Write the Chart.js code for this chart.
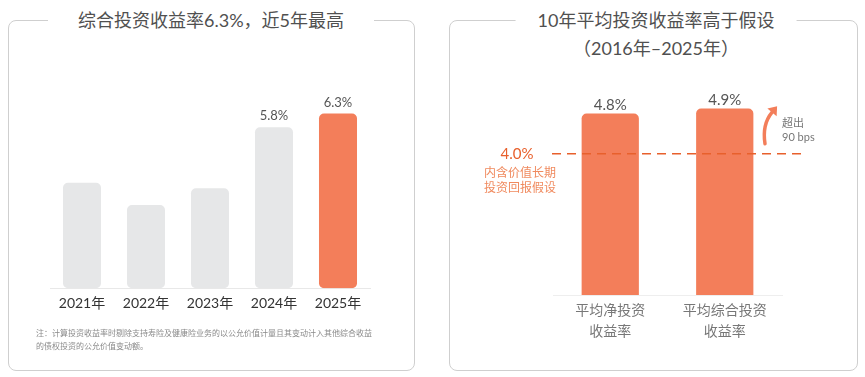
<!DOCTYPE html>
<html>
<head>
<meta charset="utf-8">
<script src="https://cdn.jsdelivr.net/npm/chart.js@4.4.1/dist/chart.umd.min.js"></script>
<style>
  body { margin: 0; background: #fff; font-family: Lato, 'Noto Sans CJK SC', sans-serif; }
  #wrap { position: relative; width: 865px; height: 377px; overflow: hidden; }
  .frame { position: absolute; border: 1.5px solid #cfcfcf; border-radius: 8px; box-sizing: border-box; }
  .title { position: absolute; background: #fff; color: #505050; font-size: 18px; line-height: 22px; white-space: nowrap; transform: translateX(-50%); }
  .note { position: absolute; left: 36px; color: #8a8a8a; font-size: 8px; line-height: 13px; white-space: nowrap; }
  canvas { position: absolute; top: 0; }
</style>
</head>
<body>
<div id="wrap">
  <div class="frame" style="left:8px;top:20px;width:407px;height:351px;"></div>
  <div class="frame" style="left:449px;top:20px;width:409px;height:351px;"></div>
  <canvas id="leftChart" width="430" height="377" style="left:0"></canvas>
  <canvas id="rightChart" width="425" height="377" style="left:440px"></canvas>
  <div class="title" style="left:211px;top:9px;padding:0 30px;">综合投资收益率6.3%，近5年最高</div>
  <div class="title" style="left:656px;top:9px;padding:0 22px;">10年平均投资收益率高于假设</div>
  <div class="title" style="left:656px;top:37px;padding:0 10px;">（2016年–2025年）</div>
  <div class="note" style="top:327px;">注：计算投资收益率时剔除支持寿险及健康险业务的以公允价值计量且其变动计入其他综合收益</div>
  <div class="note" style="top:340px;">的债权投资的公允价值变动额。</div>
</div>
<script>
// left chart: comprehensive investment yield by year (%)
const years = ['2021年', '2022年', '2023年', '2024年', '2025年'];
const yieldRates = [3.8, 3.0, 3.6, 5.8, 6.3];
const labeledYears = ['2024年', '2025年'];

// right chart: 10-year averages (%)
const avgCategories = [['平均净投资', '收益率'], ['平均综合投资', '收益率']];
const avgRates = [4.8, 4.9];
const assumptionRate = 4.0;
const assumptionText = ['内含价值长期', '投资回报假设'];

const FONT = "Lato, 'Noto Sans CJK SC', sans-serif";
const ORANGE = '#F37E5A';
const GREY = '#E6E7E8';

// value labels above bars
const valueLabels = {
  id: 'valueLabels',
  afterDatasetsDraw(chart, args, opts) {
    const ctx = chart.ctx;
    const ds = chart.data.datasets[0];
    chart.getDatasetMeta(0).data.forEach((bar, i) => {
      if (opts.only && !opts.only.includes(chart.data.labels[i])) return;
      ctx.save();
      ctx.fillStyle = '#555';
      ctx.font = opts.size + 'px ' + FONT;
      ctx.textAlign = 'center';
      ctx.textBaseline = 'middle';
      ctx.fillText(ds.data[i].toFixed(1) + '%', bar.x, bar.y - opts.offset);
      ctx.restore();
    });
  }
};

// dashed assumption line + annotation
const assumptionLine = {
  id: 'assumptionLine',
  afterDatasetsDraw(chart) {
    const ctx = chart.ctx;
    const area = chart.chartArea;
    const y = chart.scales.y.getPixelForValue(assumptionRate);
    ctx.save();
    ctx.strokeStyle = '#E8602C';
    ctx.lineWidth = 1.5;
    ctx.setLineDash([9, 6]);
    ctx.beginPath();
    ctx.moveTo(area.left - 1, y);
    ctx.lineTo(area.right + 23, y);
    ctx.stroke();
    ctx.setLineDash([]);

    ctx.textAlign = 'center';
    ctx.textBaseline = 'middle';
    ctx.fillStyle = '#E8602C';
    ctx.font = '15px ' + FONT;
    ctx.fillText(assumptionRate.toFixed(1) + '%', area.left - 36, y);
    ctx.fillStyle = '#F08A5E';
    ctx.font = '12px ' + FONT;
    assumptionText.forEach((t, i) => ctx.fillText(t, area.left - 33, y + 19 + i * 15));

    // curved arrow showing the excess
    const yTop = chart.scales.y.getPixelForValue(Math.max(...avgRates));
    const bx = area.right - 17, by = y - 10;
    const ex = area.right - 10, ey = yTop + 4;
    const cx = bx - 3, cy = yTop + 16;
    ctx.strokeStyle = ORANGE;
    ctx.fillStyle = ORANGE;
    ctx.lineWidth = 3.5;
    ctx.lineCap = 'round';
    ctx.beginPath();
    ctx.moveTo(bx, by);
    ctx.quadraticCurveTo(cx, cy, ex, ey);
    ctx.stroke();
    let dx = ex - cx, dy = ey - cy;
    const len = Math.hypot(dx, dy);
    dx /= len; dy /= len;
    ctx.beginPath();
    ctx.moveTo(ex + dx * 8, ey + dy * 8);
    ctx.lineTo(ex - dy * 6, ey + dx * 6);
    ctx.lineTo(ex + dy * 6, ey - dx * 6);
    ctx.closePath();
    ctx.fill();

    const bps = Math.round((Math.max(...avgRates) - assumptionRate) * 100);
    ctx.fillStyle = '#777';
    ctx.font = '11px ' + FONT;
    ctx.textAlign = 'left';
    ctx.fillText('超出', area.right, yTop + 15);
    ctx.fillText(bps + ' bps', area.right, yTop + 29);
    ctx.restore();
  }
};

new Chart(document.getElementById('leftChart'), {
  type: 'bar',
  data: {
    labels: years,
    datasets: [{
      data: yieldRates,
      backgroundColor: years.map((y, i) => i === years.length - 1 ? ORANGE : GREY),
      borderRadius: 5,
      borderSkipped: false,
      categoryPercentage: 1,
      barPercentage: 0.594
    }]
  },
  options: {
    responsive: false,
    animation: false,
    layout: { padding: { left: 50, right: 60, top: 94, bottom: 58 } },
    plugins: {
      legend: { display: false },
      tooltip: { enabled: false },
      valueLabels: { only: labeledYears, size: 13, offset: 11 }
    },
    scales: {
      x: {
        grid: { display: false, drawTicks: false },
        border: { display: true, color: '#e8e8e8', width: 1 },
        ticks: { color: '#333', padding: 7, font: { size: 14, family: FONT } }
      },
      y: { display: false, min: 0, max: 7 }
    }
  },
  plugins: [valueLabels]
});

new Chart(document.getElementById('rightChart'), {
  type: 'bar',
  data: {
    labels: avgCategories,
    datasets: [{
      data: avgRates,
      backgroundColor: ORANGE,
      borderRadius: 5,
      borderSkipped: false,
      categoryPercentage: 1,
      barPercentage: 0.5
    }]
  },
  options: {
    responsive: false,
    animation: false,
    layout: { padding: { left: 113, right: 83, top: 53, bottom: 30 } },
    plugins: {
      legend: { display: false },
      tooltip: { enabled: false },
      valueLabels: { size: 15, offset: 8 }
    },
    scales: {
      x: {
        grid: { display: false, drawTicks: false },
        border: { display: true, color: '#eeeeee', width: 1 },
        ticks: { color: '#777', padding: 5, font: { size: 14, family: FONT, lineHeight: 1.5 } }
      },
      y: { display: false, min: 1.2, max: 6.0 }
    }
  },
  plugins: [valueLabels, assumptionLine]
});
</script>
</body>
</html>
